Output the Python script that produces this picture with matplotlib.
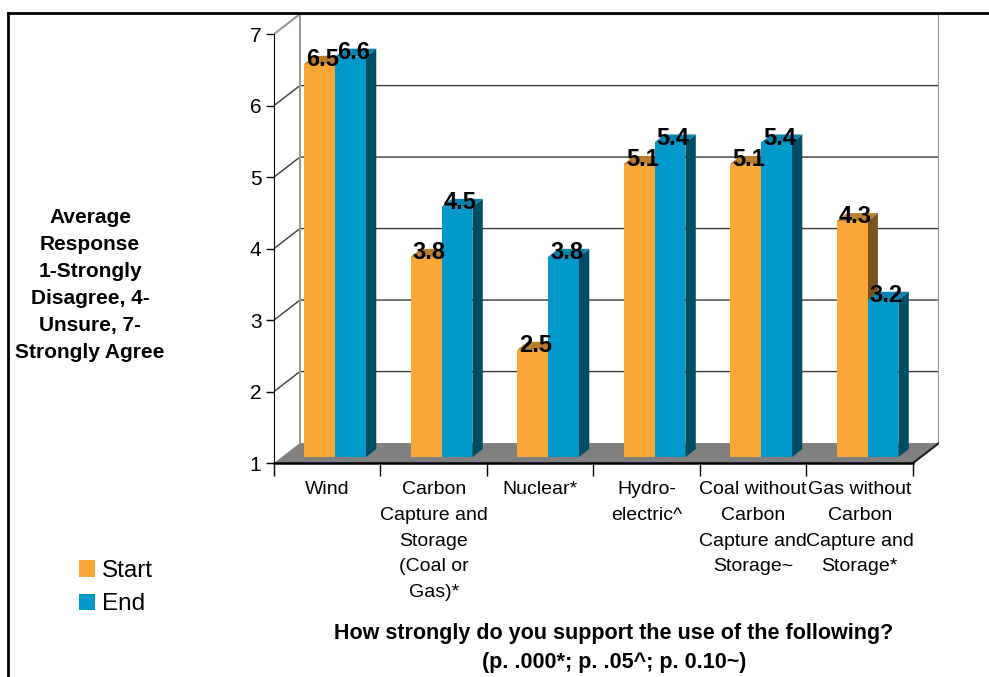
import matplotlib.pyplot as plt
from matplotlib.patches import Polygon, Patch
from matplotlib.lines import Line2D

plt.rcParams['font.family'] = ['Liberation Sans', 'DejaVu Sans']

categories = ['Wind',
              'Carbon\nCapture and\nStorage\n(Coal or\nGas)*',
              'Nuclear*',
              'Hydro-\nelectric^',
              'Coal without\nCarbon\nCapture and\nStorage~',
              'Gas without\nCarbon\nCapture and\nStorage*']
start = [6.5, 3.8, 2.5, 5.1, 5.1, 4.3]
end = [6.6, 4.5, 3.8, 5.4, 5.4, 3.2]
series_names = ['Start', 'End']
yticks = [1, 2, 3, 4, 5, 6, 7]

# front, top and side face colours of each series
orange = ('#F9A737', '#BC7E2C', '#7A5222')
blue = ('#0099CC', '#0A84AE', '#004D66')

DX, DY = 0.244, 0.28   # offset of the back wall, in data units
Z0, Z1 = 0.3, 0.7      # depth range taken by the bars
GAP, W = 0.21, 0.29    # gap before the first bar, width of one bar
YMIN, YMAX = 1, 7
n = len(categories)

fig = plt.figure(figsize=(9.89, 6.77), dpi=100)
ax = fig.add_axes([0.277, 0.316, 0.6724, 0.6632])
ax.set_xlim(0, n + DX)
ax.set_ylim(YMIN, YMAX + DY)
ax.set_facecolor('none')

# floor
ax.add_patch(Polygon([(0, YMIN), (n, YMIN), (n + DX, YMIN + DY), (DX, YMIN + DY)],
                     closed=True, fc='#808080', ec='none', zorder=1))
ax.plot([n, n + DX], [YMIN, YMIN + DY], color='#202020', lw=1.5, zorder=2)

# gridlines on the side and back walls
for v in yticks[1:-1]:
    ax.plot([0, DX, n + DX], [v, v + DY, v + DY], color='#3a3a3a', lw=1, zorder=1)
ax.plot([0, DX, n + DX], [YMAX, YMAX + DY, YMAX + DY], color='#999999', lw=1.5, zorder=1)
ax.plot([DX, DX], [YMIN + DY, YMAX + DY], color='#999999', lw=1.5, zorder=1)
ax.plot([n + DX, n + DX], [YMIN + DY, YMAX + DY], color='#999999', lw=1.5, zorder=1)

# 3d bars: side face, front face, top face
dd = (Z1 - Z0) * DX
z = 3
for i in range(n):
    for j, (vals, cols) in enumerate([(start, orange), (end, blue)]):
        v = vals[i]
        x0 = i + GAP + j * W + Z0 * DX
        yf = v + Z0 * DY
        yb = v + Z1 * DY
        ax.add_patch(Polygon([(x0 + W, YMIN + Z0 * DY), (x0 + W, yf), (x0 + W + dd, yb),
                              (x0 + W + dd, YMIN + Z1 * DY)],
                             closed=True, fc=cols[2], ec='none', zorder=z))
        ax.bar(x0, v - YMIN, width=W, bottom=YMIN + Z0 * DY, align='edge',
               color=cols[0], zorder=z + 1)
        ax.add_patch(Polygon([(x0, yf), (x0 + W, yf), (x0 + W + dd, yb), (x0 + dd, yb)],
                             closed=True, fc=cols[1], ec='none', zorder=z + 2))
        ax.text(x0 + W / 2 + 0.03, yf - 0.03, f'{v:.1f}', ha='center', va='baseline',
                fontsize=17, fontweight='bold', zorder=100)
        z += 3

# axes and ticks
for s in ['top', 'right']:
    ax.spines[s].set_visible(False)
ax.spines['left'].set_bounds(YMIN, YMAX)
ax.spines['bottom'].set_bounds(0, n)
ax.spines['bottom'].set_linewidth(1.8)
ax.spines['bottom'].set_zorder(2)
ax.set_yticks(yticks)
ax.tick_params(axis='y', length=6, width=1, labelsize=15, pad=3)
ax.set_xticks(range(n + 1))
ax.set_xticklabels([])
ax.tick_params(axis='x', which='major', length=9, width=1)
ax.set_xticks([i + 0.5 for i in range(n)], minor=True)
ax.set_xticklabels(categories, minor=True)
ax.tick_params(axis='x', which='minor', length=0, labelsize=14, pad=13)
for lbl in ax.get_xticklabels(minor=True):
    lbl.set_linespacing(1.67)

fig.text(90 / 989, 1 - 285 / 677,
         'Average\nResponse\n1-Strongly\nDisagree, 4-\nUnsure, 7-\nStrongly Agree',
         ha='center', va='center', fontsize=15, fontweight='bold', linespacing=1.53)
fig.text(614 / 989, 1 - 648 / 677,
         'How strongly do you support the use of the following?\n(p. .000*; p. .05^; p. 0.10~)',
         ha='center', va='center', fontsize=15.5, fontweight='bold', linespacing=1.47)

fig.legend(handles=[Patch(fc=orange[0]), Patch(fc=blue[0])], labels=series_names,
           loc='upper left', bbox_to_anchor=(79 / 989, 1 - 560 / 677), frameon=False,
           fontsize=17.5, handlelength=0.65, handleheight=0.65, handletextpad=0.3,
           labelspacing=0.47, borderaxespad=0, borderpad=0)

# outer frame
fig.add_artist(Line2D([8 / 989, 1], [1 - 13 / 677, 1 - 13 / 677], color='black', lw=2))
fig.add_artist(Line2D([8 / 989, 8 / 989], [0, 1 - 13 / 677], color='black', lw=2))

fig.savefig('out.png', dpi=100, facecolor='white')
